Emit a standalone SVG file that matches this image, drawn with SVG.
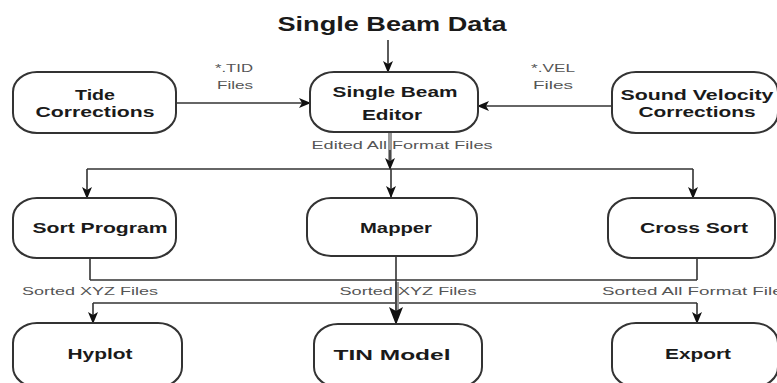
<svg xmlns="http://www.w3.org/2000/svg" width="777" height="383" viewBox="0 0 777 383">
<style>
.box{fill:#fff;stroke:#333;stroke-width:2}
.lbl{font-family:"Liberation Sans",Arial,sans-serif;font-weight:bold;font-size:15px;fill:#1a1a1a;text-anchor:middle}
.small{font-family:"Liberation Sans",Arial,sans-serif;font-size:11px;fill:#555;text-anchor:middle}
.ln{fill:none;stroke:#333;stroke-width:1.6}
.arr{marker-end:url(#ah)}
</style>
<defs>
<marker id="ah" markerUnits="userSpaceOnUse" markerWidth="12" markerHeight="12" viewBox="0 0 12 12" refX="11" refY="6" orient="auto">
<path d="M0,1 L12,6 L0,11 L3,6 Z" fill="#111"/>
</marker>
<marker id="ahb" markerUnits="userSpaceOnUse" markerWidth="18" markerHeight="14" viewBox="0 0 18 14" refX="17" refY="7" orient="auto">
<path d="M0,0 L18,7 L0,14 L4,7 Z" fill="#111"/>
</marker>
</defs>
<rect width="777" height="383" fill="#fff"/>
<text x="392" y="31" font-family="'Liberation Sans',Arial,sans-serif" font-weight="bold" font-size="21" fill="#1a1a1a" text-anchor="middle" textLength="229" lengthAdjust="spacingAndGlyphs">Single Beam Data</text>

<g id="connectors">
<line class="ln arr" x1="388" y1="40" x2="388" y2="72"/>
<line class="ln arr" x1="176" y1="103" x2="310" y2="103"/>
<line class="ln arr" x1="612" y1="106" x2="478" y2="106"/>
<line x1="390" y1="132" x2="390" y2="160" stroke="#999" stroke-width="4"/>
<line class="ln arr" x1="390" y1="150" x2="390" y2="169"/>
<line class="ln" x1="87" y1="169" x2="693" y2="169"/>
<line class="ln arr" x1="87" y1="169" x2="87" y2="198"/>
<line class="ln arr" x1="391" y1="169" x2="391" y2="197"/>
<line class="ln arr" x1="693" y1="169" x2="693" y2="198"/>
<line class="ln" x1="90" y1="258" x2="90" y2="280"/>
<line class="ln" x1="90" y1="280" x2="697" y2="280"/>
<line class="ln" x1="697" y1="258" x2="697" y2="280"/>
<line class="ln" x1="93" y1="303" x2="697" y2="303"/>
<line class="ln arr" x1="93" y1="303" x2="93" y2="323"/>
<line class="ln arr" x1="697" y1="303" x2="697" y2="323"/>
<line x1="397" y1="282" x2="397" y2="312" stroke="#999" stroke-width="4"/>
<line class="ln" x1="396" y1="256" x2="396" y2="324" marker-end="url(#ahb)"/>
<text class="small" x="234" y="72" textLength="38" lengthAdjust="spacingAndGlyphs">*.TID</text>
<text class="small" x="235" y="89" textLength="36" lengthAdjust="spacingAndGlyphs">Files</text>
<text class="small" x="553" y="72" textLength="44" lengthAdjust="spacingAndGlyphs">*.VEL</text>
<text class="small" x="553" y="89" textLength="40" lengthAdjust="spacingAndGlyphs">Files</text>
<text class="small" x="402" y="149" textLength="181" lengthAdjust="spacingAndGlyphs">Edited All Format Files</text>
<text class="small" x="90" y="295" textLength="136" lengthAdjust="spacingAndGlyphs">Sorted XYZ Files</text>
<text class="small" x="408" y="295" textLength="137" lengthAdjust="spacingAndGlyphs">Sorted XYZ Files</text>
<text class="small" x="697" y="295" textLength="190" lengthAdjust="spacingAndGlyphs">Sorted All Format Files</text>
</g>

<g id="editor">
<rect class="box" x="310" y="72" width="168" height="60" rx="24" ry="20"/>
<text class="lbl" x="395" y="97" textLength="125" lengthAdjust="spacingAndGlyphs">Single Beam</text>
<text class="lbl" x="392" y="120" textLength="60" lengthAdjust="spacingAndGlyphs">Editor</text>
</g>
<g id="tide">
<rect class="box" x="13" y="72" width="163" height="61" rx="24" ry="20"/>
<text class="lbl" x="95" y="100" textLength="40" lengthAdjust="spacingAndGlyphs">Tide</text>
<text class="lbl" x="95" y="117" textLength="119" lengthAdjust="spacingAndGlyphs">Corrections</text>
</g>
<g id="soundvelocity">
<rect class="box" x="612" y="72" width="166" height="61" rx="24" ry="20"/>
<text class="lbl" x="697" y="100" textLength="153" lengthAdjust="spacingAndGlyphs">Sound Velocity</text>
<text class="lbl" x="697" y="117" textLength="117" lengthAdjust="spacingAndGlyphs">Corrections</text>
</g>
<g id="sortprogram">
<rect class="box" x="13" y="198" width="163" height="60" rx="24" ry="20"/>
<text class="lbl" x="100" y="233" textLength="135" lengthAdjust="spacingAndGlyphs">Sort Program</text>
</g>
<g id="mapper">
<rect class="box" x="307" y="198" width="170" height="58" rx="24" ry="20"/>
<text class="lbl" x="396" y="233" textLength="72" lengthAdjust="spacingAndGlyphs">Mapper</text>
</g>
<g id="crosssort">
<rect class="box" x="608" y="198" width="167" height="60" rx="24" ry="20"/>
<text class="lbl" x="694" y="233" textLength="108" lengthAdjust="spacingAndGlyphs">Cross Sort</text>
</g>
<g id="hyplot">
<rect class="box" x="13" y="323" width="169" height="64" rx="24" ry="20"/>
<text class="lbl" x="100" y="359" textLength="65" lengthAdjust="spacingAndGlyphs">Hyplot</text>
</g>
<g id="tinmodel">
<rect class="box" x="314" y="324" width="168" height="63" rx="24" ry="20"/>
<text class="lbl" x="392" y="360" textLength="117" lengthAdjust="spacingAndGlyphs">TIN Model</text>
</g>
<g id="export">
<rect class="box" x="612" y="323" width="166" height="64" rx="24" ry="20"/>
<text class="lbl" x="698" y="359" textLength="66" lengthAdjust="spacingAndGlyphs">Export</text>
</g>
</svg>
